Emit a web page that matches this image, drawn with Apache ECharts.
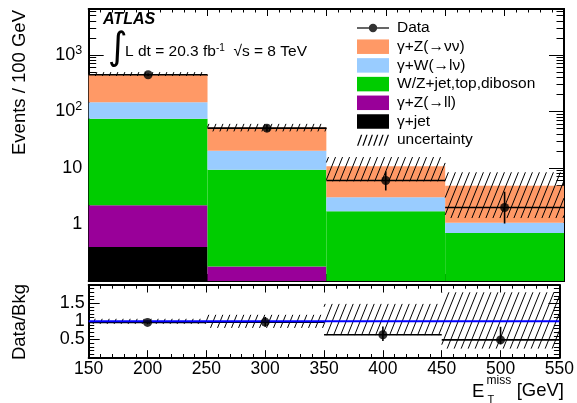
<!DOCTYPE html>
<html>
<head>
<meta charset="utf-8">
<script src="https://cdn.jsdelivr.net/npm/echarts@6/dist/echarts.min.js"></script>
<style>
html,body{margin:0;padding:0;background:#fff;}
#chart{width:577px;height:403px;}
</style>
</head>
<body>
<div id="chart"></div>
<script>
// ---------------- data ----------------
const BIN_LOW = [150, 250, 350, 450];
const BIN_HIGH = [250, 350, 450, 550];
const BIN_CENTER = [200, 300, 400, 500];

const GAMMA_JET = [0.40, 0, 0, 0];
const GAMMA_Z_LL = [1.8, 0.18, 0, 0];
const WZ_JET_TOP_DIBOSON = [72, 9.1, 1.72, 0.71];
const GAMMA_W_LNU = [72, 10.9, 1.31, 0.36];
const GAMMA_Z_NUNU = [314, 31.8, 7.67, 3.8];

const DATA = [447, 50.7, 6.0, 2.0];
const DATA_ERR_LOW = [426, 44, 4.0, 1.04];
const DATA_ERR_HIGH = [468, 58, 8.7, 3.8];

const BKG_UNC_LOW = [425, 44.3, 5.8, 1.3];
const BKG_UNC_HIGH = [497, 60.3, 15.6, 8.4];

const RATIO = [0.97, 0.98, 0.63, 0.49];
const RATIO_ERR_LOW = [0.92, 0.85, 0.46, 0.37];
const RATIO_ERR_HIGH = [1.02, 1.12, 0.86, 0.85];
const RATIO_UNC_LOW = [0.93, 0.82, 0.62, 0.25];
const RATIO_UNC_HIGH = [1.07, 1.18, 1.48, 1.8];
const RATIO_REF_X = [150, 550];
const RATIO_REF_Y = 1;

const MAIN_Y_LABELS = [1, 10, 100, 1000];
const RATIO_Y_LABELS = [0.5, 1, 1.5];

const NAMES = {
  data: 'Data',
  zvv: 'γ+Z(→νν)',
  wlv: 'γ+W(→lν)',
  wz: 'W/Z+jet,top,diboson',
  zll: 'γ+Z(→ll)',
  gj: 'γ+jet',
  unc: 'uncertainty'
};

// ---------------- styling constants ----------------
const Y_MIN = 0.1, Y_MAX = 6500;
const FONT = '"Liberation Sans", Arial, Helvetica, sans-serif';
const HATCH_ANGLE = 68 * Math.PI / 180;
const HATCH_DX = 7;

// minor log ticks
const MINOR_LOG = [];
[0.1, 1, 10, 100, 1000].forEach(d => { for (let k = 2; k <= 9; k++) MINOR_LOG.push(+(d * k).toPrecision(3)); });

// ---------------- build stacked boxes ----------------
const layers = [
  {name: NAMES.gj, vals: GAMMA_JET, color: '#000000'},
  {name: NAMES.zll, vals: GAMMA_Z_LL, color: '#990099'},
  {name: NAMES.wz, vals: WZ_JET_TOP_DIBOSON, color: '#00CC00'},
  {name: NAMES.wlv, vals: GAMMA_W_LNU, color: '#99CCFF'},
  {name: NAMES.zvv, vals: GAMMA_Z_NUNU, color: '#FF9966'}
];
const cum = BIN_LOW.map(() => 0);
const layerRows = layers.map(L => {
  const rows = [];
  L.vals.forEach((v, i) => {
    if (v > 0) {
      const lo = Math.max(cum[i], Y_MIN);
      const hi = cum[i] + v;
      rows.push([BIN_LOW[i], BIN_HIGH[i], lo, hi]);
    }
    cum[i] += v;
  });
  return rows;
});

function boxItem(params, api) {
  const p0 = api.coord([api.value(0), api.value(3)]);
  const p1 = api.coord([api.value(1), api.value(2)]);
  const cs = params.coordSys;
  const top = Math.max(p0[1], cs.y), bottom = Math.min(p1[1], cs.y + cs.height);
  if (bottom <= top) return null;
  return {type: 'rect', shape: {x: p0[0], y: top, width: p1[0] - p0[0], height: bottom - top},
    style: {fill: api.visual('color')}};
}

function hatchItem(params, api) {
  const p0 = api.coord([api.value(0), api.value(3)]);
  const p1 = api.coord([api.value(1), api.value(2)]);
  const cs = params.coordSys;
  const left = p0[0], right = p1[0];
  const top = Math.max(p0[1], cs.y), bottom = Math.min(p1[1], cs.y + cs.height);
  const s = Math.sin(HATCH_ANGLE), c = Math.cos(HATCH_ANGLE);
  const cmin = left * s + top * c, cmax = right * s + bottom * c;
  const step = HATCH_DX * s;
  const children = [];
  for (let k = Math.ceil(cmin / step); k * step <= cmax; k++) {
    const cv = k * step;
    let xa = (cv - bottom * c) / s, xb = (cv - top * c) / s;
    xa = Math.max(xa, left); xb = Math.min(xb, right);
    if (xb <= xa) continue;
    children.push({type: 'line', shape: {x1: xa, y1: (cv - xa * s) / c, x2: xb, y2: (cv - xb * s) / c},
      style: {stroke: '#000', lineWidth: 1}});
  }
  return {type: 'group', children};
}

function errItem(params, api) {
  const x0 = api.value(0), x1 = api.value(1), xc = api.value(2), y = api.value(3), lo = api.value(4), hi = api.value(5);
  const a = api.coord([x0, y]), b = api.coord([x1, y]);
  const v0 = api.coord([xc, lo]), v1 = api.coord([xc, hi]);
  const st = {stroke: '#000', lineWidth: 1.6};
  return {type: 'group', children: [
    {type: 'line', shape: {x1: a[0], y1: a[1], x2: b[0], y2: b[1]}, style: st},
    {type: 'line', shape: {x1: v0[0], y1: v0[1], x2: v1[0], y2: v1[1]}, style: st}
  ]};
}

const uncRows = BIN_LOW.map((x, i) => [x, BIN_HIGH[i], BKG_UNC_LOW[i], BKG_UNC_HIGH[i]]);
const errRows = BIN_LOW.map((x, i) => [x, BIN_HIGH[i], BIN_CENTER[i], DATA[i], DATA_ERR_LOW[i], DATA_ERR_HIGH[i]]);
const rUncRows = BIN_LOW.map((x, i) => [x, BIN_HIGH[i], RATIO_UNC_LOW[i], RATIO_UNC_HIGH[i]]);
const rErrRows = BIN_LOW.map((x, i) => [x, BIN_HIGH[i], BIN_CENTER[i], RATIO[i], RATIO_ERR_LOW[i], RATIO_ERR_HIGH[i]]);

// legend icons
const DATA_ICON = 'path://M0,7 L32,7 L32,8.4 L0,8.4 Z M20.2,7.7 A4.2,4.2 0 1 1 11.8,7.7 A4.2,4.2 0 1 1 20.2,7.7 Z';
let hatchPath = '';
for (let i = 0; i < 6; i++) {
  const x = i * 5.4;
  hatchPath += `M${x},11 L${x + 1.3},11 L${x + 5.3},0 L${x + 4},0 Z `;
}
const HATCH_ICON = 'path://' + hatchPath;

const axisLineStyle = {color: '#000', width: 2};
const tickStyle = {color: '#000', width: 1};

function xAxisDef(grid, pos, showLabel, majorLen, minorLen) {
  return {
    type: 'value', gridIndex: grid, position: pos, min: 150, max: 550, interval: 50,
    axisLine: {show: true, onZero: false, lineStyle: axisLineStyle},
    axisTick: {show: true, inside: true, length: majorLen, lineStyle: tickStyle},
    minorTick: {show: true, splitNumber: 5, length: minorLen, lineStyle: tickStyle},
    splitLine: {show: false},
    axisLabel: {show: showLabel, margin: 2, fontSize: 17.5, fontFamily: FONT, color: '#000',
      showMinLabel: true, showMaxLabel: true}
  };
}
function logAxisDef(pos, values, len, label) {
  return {
    type: 'log', logBase: 10, gridIndex: 0, position: pos, min: Y_MIN, max: Y_MAX,
    axisLine: {show: true, lineStyle: axisLineStyle},
    axisTick: {show: true, inside: true, length: len, customValues: values, lineStyle: tickStyle},
    minorTick: {show: false},
    splitLine: {show: false},
    axisLabel: label ? {
      show: true, customValues: MAIN_Y_LABELS, margin: 6.5, color: '#000',
      formatter: v => {
        const e = Math.round(Math.log10(v));
        if (e >= 2) return '{b|10}{s|' + e + '}';
        return '{b|' + (e === 1 ? '10' : '1') + '}';
      },
      rich: {
        b: {fontSize: 18, fontFamily: FONT, color: '#000', lineHeight: 22},
        s: {fontSize: 12.5, fontFamily: FONT, color: '#000', verticalAlign: 'top'}
      }
    } : {show: false}
  };
}
function ratioYAxisDef(pos, label) {
  return {
    type: 'value', gridIndex: 1, position: pos, min: 0, max: 2, interval: 0.5,
    axisLine: {show: true, lineStyle: axisLineStyle},
    axisTick: {show: true, inside: true, length: 11, lineStyle: tickStyle},
    minorTick: {show: true, splitNumber: 5, length: 5.5, lineStyle: tickStyle},
    splitLine: {show: false},
    axisLabel: label ? {
      show: true, margin: 4, fontSize: 18, fontFamily: FONT, color: '#000',
      formatter: v => RATIO_Y_LABELS.indexOf(v) >= 0 ? String(v) : ''
    } : {show: false}
  };
}

const series = [];
layers.forEach((L, j) => {
  series.push({
    type: 'custom', name: L.name, xAxisIndex: 0, yAxisIndex: 0, z: 1, clip: true,
    itemStyle: {color: L.color},
    encode: {x: [0, 1], y: [2, 3]},
    renderItem: boxItem, data: layerRows[j], silent: true
  });
});
series.push({
  type: 'custom', name: NAMES.unc, xAxisIndex: 0, yAxisIndex: 0, z: 2,
  itemStyle: {color: '#000'}, encode: {x: [0, 1], y: [2, 3]},
  renderItem: hatchItem, data: uncRows, silent: true
});
series.push({
  type: 'custom', name: 'data errors', xAxisIndex: 0, yAxisIndex: 0, z: 3,
  encode: {x: [0, 1, 2], y: [3, 4, 5]}, renderItem: errItem, data: errRows, silent: true
});
series.push({
  type: 'scatter', name: NAMES.data, xAxisIndex: 0, yAxisIndex: 0, z: 5,
  symbol: 'circle', symbolSize: 9, itemStyle: {color: '#000'},
  data: BIN_CENTER.map((x, i) => [x, DATA[i]]), silent: true
});
// ratio panel
series.push({
  type: 'custom', name: 'ratio uncertainty', xAxisIndex: 2, yAxisIndex: 4, z: 2,
  itemStyle: {color: '#000'}, encode: {x: [0, 1], y: [2, 3]},
  renderItem: hatchItem, data: rUncRows, silent: true
});
series.push({
  type: 'custom', name: 'ratio errors', xAxisIndex: 2, yAxisIndex: 4, z: 3,
  encode: {x: [0, 1, 2], y: [3, 4, 5]}, renderItem: errItem, data: rErrRows, silent: true
});
series.push({
  type: 'line', name: 'reference', xAxisIndex: 2, yAxisIndex: 4, z: 4,
  symbol: 'none', lineStyle: {color: '#0000ff', width: 2}, silent: true,
  data: RATIO_REF_X.map(x => [x, RATIO_REF_Y])
});
series.push({
  type: 'scatter', name: 'ratio points', xAxisIndex: 2, yAxisIndex: 4, z: 5,
  symbol: 'circle', symbolSize: 9, itemStyle: {color: '#000'},
  data: BIN_CENTER.map((x, i) => [x, RATIO[i]]), silent: true
});

const option = {
  animation: false,
  backgroundColor: '#fff',
  grid: [
    {left: 88.7, right: 13, top: 9, height: 272},
    {left: 88.7, right: 13, top: 285, height: 72.7}
  ],
  xAxis: [
    xAxisDef(0, 'bottom', false, 7, 3.5),
    xAxisDef(0, 'top', false, 7, 3.5),
    xAxisDef(1, 'bottom', true, 7.5, 3.7),
    xAxisDef(1, 'top', false, 7.5, 3.7)
  ],
  yAxis: [
    logAxisDef('left', MAIN_Y_LABELS.concat([0.1]), 15, true),
    logAxisDef('left', MINOR_LOG, 7.5, false),
    logAxisDef('right', MAIN_Y_LABELS.concat([0.1]), 15, false),
    logAxisDef('right', MINOR_LOG, 7.5, false),
    ratioYAxisDef('left', true),
    ratioYAxisDef('right', false)
  ],
  legend: {
    orient: 'vertical', left: 357, top: 20, padding: 0,
    itemWidth: 32, itemHeight: 14.5, itemGap: 2.7,
    selectedMode: false,
    textStyle: {fontSize: 15.5, fontFamily: FONT, color: '#000', lineHeight: 15, padding: [0, 0, 0, 3]},
    data: [
      {name: NAMES.data, icon: DATA_ICON, itemStyle: {color: '#000'}},
      {name: NAMES.zvv, icon: 'rect'},
      {name: NAMES.wlv, icon: 'rect'},
      {name: NAMES.wz, icon: 'rect'},
      {name: NAMES.zll, icon: 'rect'},
      {name: NAMES.gj, icon: 'rect'},
      {name: NAMES.unc, icon: HATCH_ICON, itemStyle: {color: '#000'}}
    ]
  },
  graphic: [
    {type: 'text', x: 103, y: 20, style: {text: 'ATLAS', fontSize: 16, fontWeight: 'bold', fontStyle: 'italic',
      fontFamily: FONT, fill: '#000', textAlign: 'left', textVerticalAlign: 'middle', verticalAlign: 'middle'}},
    {type: 'text', x: 108, y: 49, style: {text: '∫', fontSize: 38, fontFamily: '"DejaVu Sans", sans-serif',
      fill: '#000', textAlign: 'left', textVerticalAlign: 'middle', verticalAlign: 'middle'}},
    {type: 'text', x: 125, y: 52, style: {
      text: '{t|L dt = 20.3 fb}{s|-1}{t|  √s = 8 TeV}',
      textAlign: 'left', textVerticalAlign: 'middle', verticalAlign: 'middle',
      rich: {
        t: {fontSize: 15.5, fontFamily: FONT, fill: '#000', lineHeight: 18},
        s: {fontSize: 10, fontFamily: FONT, fill: '#000', verticalAlign: 'top'}
      }}},
    {type: 'text', x: 20, y: 10, rotation: Math.PI / 2, style: {text: 'Events / 100 GeV', fontSize: 18.5,
      fontFamily: FONT, fill: '#000', textAlign: 'right', textVerticalAlign: 'middle', verticalAlign: 'middle'}},
    {type: 'text', x: 20, y: 284, rotation: Math.PI / 2, style: {text: 'Data/Bkg', fontSize: 18.5,
      fontFamily: FONT, fill: '#000', textAlign: 'right', textVerticalAlign: 'middle', verticalAlign: 'middle'}},
    {type: 'text', x: 472, y: 392, style: {text: 'E', fontSize: 18.5, fontFamily: FONT, fill: '#000',
      textAlign: 'left', textVerticalAlign: 'middle', verticalAlign: 'middle'}},
    {type: 'text', x: 486.5, y: 381, style: {text: 'miss', fontSize: 12, fontFamily: FONT, fill: '#000',
      textAlign: 'left', textVerticalAlign: 'middle', verticalAlign: 'middle'}},
    {type: 'text', x: 487.5, y: 400, style: {text: 'T', fontSize: 11, fontFamily: FONT, fill: '#000',
      textAlign: 'left', textVerticalAlign: 'middle', verticalAlign: 'middle'}},
    {type: 'text', x: 564, y: 391, style: {text: '[GeV]', fontSize: 18.5, fontFamily: FONT, fill: '#000',
      textAlign: 'right', textVerticalAlign: 'middle', verticalAlign: 'middle'}}
  ],
  series: series
};

const chart = echarts.init(document.getElementById('chart'), null, {renderer: 'canvas'});
chart.setOption(option);
</script>
</body>
</html>
